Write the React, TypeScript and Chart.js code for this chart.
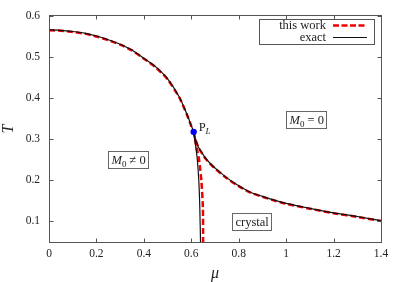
import React, { useEffect, useRef } from "react";
import { Chart, registerables } from "chart.js";
Chart.register(...registerables);

// ---- data ----
const xTicks = [0, 0.2, 0.4, 0.6, 0.8, 1.0, 1.2, 1.4];
const xTickLabels = ["0", "0.2", "0.4", "0.6", "0.8", "1", "1.2", "1.4"];
const yTicks = [0.1, 0.2, 0.3, 0.4, 0.5, 0.6];
const yTickLabels = ["0.1", "0.2", "0.3", "0.4", "0.5", "0.6"];

// exact: upper branch continuing down to crystal boundary
const exactUpperMu = [0, 0.05, 0.1, 0.15, 0.2, 0.25, 0.3, 0.35, 0.4, 0.45, 0.5, 0.55, 0.58, 0.6, 0.61, 0.618, 0.625, 0.632, 0.636, 0.639];
const exactUpperT = [0.566, 0.565, 0.562, 0.558, 0.551, 0.542, 0.531, 0.517, 0.497, 0.476, 0.447, 0.402, 0.363, 0.333, 0.318, 0.285, 0.253, 0.196, 0.132, 0.05];
// exact: right branch
const exactRightMu = [0.61, 0.615, 0.62, 0.63, 0.645, 0.66, 0.68, 0.7, 0.75, 0.8, 0.85, 0.9, 0.95, 1.0, 1.1, 1.2, 1.3, 1.4];
const exactRightT = [0.318, 0.305, 0.296, 0.281, 0.267, 0.254, 0.241, 0.23, 0.206, 0.187, 0.171, 0.161, 0.152, 0.144, 0.132, 0.121, 0.112, 0.102];
// this work
const workUpperMu = [0, 0.05, 0.1, 0.15, 0.2, 0.25, 0.3, 0.35, 0.4, 0.45, 0.5, 0.55, 0.58, 0.6, 0.61, 0.618, 0.625, 0.632, 0.638, 0.643, 0.649, 0.65];
const workUpperT = [0.565, 0.564, 0.561, 0.557, 0.55, 0.541, 0.53, 0.516, 0.496, 0.475, 0.446, 0.401, 0.362, 0.332, 0.318, 0.293, 0.272, 0.253, 0.225, 0.196, 0.132, 0.05];
const workRightMu = [0.61, 0.615, 0.62, 0.63, 0.645, 0.66, 0.68, 0.7, 0.75, 0.8, 0.85, 0.9, 0.95, 1.0, 1.1, 1.2, 1.3, 1.4];
const workRightT = [0.318, 0.304, 0.295, 0.28, 0.266, 0.253, 0.24, 0.229, 0.205, 0.186, 0.17, 0.16, 0.151, 0.143, 0.131, 0.12, 0.111, 0.101];
// Lifshitz point
const pointMu = [0.61];
const pointT = [0.318];

// region labels (data coordinates)
const labelM0zero = { mu: 1.083, T: 0.348 };
const labelM0nonzero = { mu: 0.334, T: 0.25 };
const labelCrystal = { mu: 0.854, T: 0.1 };

const legendNames = ["this work", "exact"];

const zip = (xs: number[], ys: number[]) => xs.map((x, i) => ({ x, y: ys[i] }));

const SERIF = '"Liberation Serif", "Times New Roman", serif';
const RED = "rgb(240,0,0)";
const TXT = "#222";
const FRAME = "#555";

type Part = { text: string; font: string; dy?: number };

function drawParts(ctx: CanvasRenderingContext2D, x: number, baseline: number, parts: Part[]) {
  let cx = x;
  for (const p of parts) {
    ctx.font = p.font;
    ctx.fillText(p.text, cx, baseline + (p.dy || 0));
    cx += ctx.measureText(p.text).width;
  }
}
function partsWidth(ctx: CanvasRenderingContext2D, parts: Part[]) {
  let w = 0;
  for (const p of parts) {
    ctx.font = p.font;
    w += ctx.measureText(p.text).width;
  }
  return w;
}
function boxLabel(ctx: CanvasRenderingContext2D, cx: number, cy: number, parts: Part[]) {
  const w = partsWidth(ctx, parts);
  const bw = Math.round(w + 6);
  const bh = 17;
  const left = Math.round(cx - bw / 2);
  const top = Math.round(cy - bh / 2);
  ctx.fillStyle = "#fff";
  ctx.fillRect(left, top, bw, bh);
  ctx.strokeStyle = "#666";
  ctx.lineWidth = 1;
  ctx.strokeRect(left + 0.5, top + 0.5, bw, bh);
  ctx.fillStyle = TXT;
  ctx.textAlign = "left";
  ctx.textBaseline = "alphabetic";
  drawParts(ctx, left + 3.5, top + 13, parts);
}

const decor = {
  id: "decor",
  afterDatasetsDraw(chart: any) {
    const { ctx, chartArea: ca, scales } = chart;
    const xs = scales.x;
    const ys = scales.y;
    ctx.save();
    ctx.strokeStyle = FRAME;
    ctx.lineWidth = 1;
    const L = Math.round(ca.left) + 0.5;
    const R = Math.round(ca.right) + 0.5;
    const T = Math.round(ca.top) - 0.5;
    const B = Math.round(ca.bottom) + 0.5;
    ctx.strokeRect(L, T, R - L, B - T);
    const tl = 4;
    ctx.beginPath();
    for (const v of xTicks) {
      const px = Math.round(xs.getPixelForValue(v)) + 0.5;
      ctx.moveTo(px, B);
      ctx.lineTo(px, B - tl);
      ctx.moveTo(px, T);
      ctx.lineTo(px, T + tl);
    }
    for (const v of yTicks) {
      const py = Math.round(ys.getPixelForValue(v)) + 0.5;
      ctx.moveTo(L, py);
      ctx.lineTo(L + tl, py);
      ctx.moveTo(R, py);
      ctx.lineTo(R - tl, py);
    }
    ctx.stroke();
    ctx.restore();
  },
  afterDraw(chart: any) {
    const { ctx, chartArea: ca, scales } = chart;
    const xs = scales.x;
    const ys = scales.y;
    ctx.save();
    const f = (s: number, it = false) => `${it ? "italic " : ""}${s}px ${SERIF}`;

    // region labels
    boxLabel(ctx, xs.getPixelForValue(labelM0zero.mu), ys.getPixelForValue(labelM0zero.T), [
      { text: "M", font: f(12.5, true) },
      { text: "0", font: f(9), dy: 2.5 },
      { text: " = 0", font: f(12.5) },
    ]);
    boxLabel(ctx, xs.getPixelForValue(labelM0nonzero.mu), ys.getPixelForValue(labelM0nonzero.T), [
      { text: "M", font: f(12.5, true) },
      { text: "0", font: f(9), dy: 2.5 },
      { text: " \u2260 0", font: f(12.5) },
    ]);
    boxLabel(ctx, xs.getPixelForValue(labelCrystal.mu), ys.getPixelForValue(labelCrystal.T), [
      { text: "crystal", font: f(12.5) },
    ]);

    // P_L label
    const px = xs.getPixelForValue(pointMu[0]);
    const py = ys.getPixelForValue(pointT[0]);
    ctx.fillStyle = TXT;
    ctx.textAlign = "left";
    ctx.textBaseline = "alphabetic";
    drawParts(ctx, px + 5, py - 0.5, [
      { text: "P", font: f(12.5) },
      { text: "L", font: f(9, true), dy: 2.5 },
    ]);

    // legend
    const bl = Math.round(ca.right) - 122;
    const bt = Math.round(ca.top) + 3;
    ctx.fillStyle = "#fff";
    ctx.fillRect(bl, bt, 115, 25);
    ctx.strokeStyle = FRAME;
    ctx.lineWidth = 1;
    ctx.strokeRect(bl + 0.5, bt + 0.5, 115, 25);
    ctx.fillStyle = TXT;
    ctx.font = f(12.5);
    ctx.textAlign = "right";
    ctx.fillText(legendNames[0], bl + 67, bt + 10);
    ctx.fillText(legendNames[1], bl + 67, bt + 22);
    ctx.beginPath();
    ctx.strokeStyle = RED;
    ctx.lineWidth = 2.5;
    ctx.setLineDash([6, 2.5]);
    ctx.moveTo(bl + 74, bt + 6.5);
    ctx.lineTo(bl + 108, bt + 6.5);
    ctx.stroke();
    ctx.setLineDash([]);
    ctx.beginPath();
    ctx.strokeStyle = "#111";
    ctx.lineWidth = 1.2;
    ctx.moveTo(bl + 74, bt + 18.5);
    ctx.lineTo(bl + 108, bt + 18.5);
    ctx.stroke();

    // axis titles
    ctx.fillStyle = TXT;
    ctx.font = f(16, true);
    ctx.textAlign = "center";
    ctx.textBaseline = "alphabetic";
    ctx.fillText("\u03bc", (ca.left + ca.right) / 2, 278);
    ctx.save();
    ctx.translate(13, (ca.top + ca.bottom) / 2);
    ctx.rotate(-Math.PI / 2);
    ctx.fillText("T", 0, 0);
    ctx.restore();

    ctx.restore();
  },
};

export default function App() {
  const ref = useRef<HTMLCanvasElement | null>(null);
  useEffect(() => {
    if (!ref.current) return;
    const chart = new Chart(ref.current, {
      type: "scatter",
      data: {
        datasets: [
          {
            label: "P_L",
            data: zip(pointMu, pointT),
            showLine: false,
            pointRadius: 3.2,
            pointBackgroundColor: "#0000ff",
            pointBorderColor: "#0000ff",
            pointBorderWidth: 0,
          },
          {
            label: "exact",
            data: zip(exactUpperMu, exactUpperT),
            showLine: true,
            borderColor: "#111",
            borderWidth: 1.2,
            pointRadius: 0,
            tension: 0.2,
          },
          {
            label: "exact",
            data: zip(exactRightMu, exactRightT),
            showLine: true,
            borderColor: "#111",
            borderWidth: 1.2,
            pointRadius: 0,
            tension: 0.3,
          },
          {
            label: "this work",
            data: zip(workUpperMu, workUpperT),
            showLine: true,
            borderColor: RED,
            borderWidth: 2.5,
            borderDash: [6, 3],
            pointRadius: 0,
            tension: 0.2,
          },
          {
            label: "this work",
            data: zip(workRightMu, workRightT),
            showLine: true,
            borderColor: RED,
            borderWidth: 2.5,
            borderDash: [6, 3],
            pointRadius: 0,
            tension: 0.3,
          },
        ],
      },
      options: {
        responsive: false,
        animation: false,
        devicePixelRatio: 1,
        layout: { padding: { left: 0, right: 22, top: 15, bottom: 0 } },
        plugins: { legend: { display: false }, tooltip: { enabled: false } },
        scales: {
          x: {
            type: "linear",
            min: 0,
            max: 1.4,
            grid: { display: false, drawTicks: false },
            border: { display: false },
            afterBuildTicks: (s: any) => {
              s.ticks = xTicks.map((v) => ({ value: v }));
            },
            afterFit: (s: any) => {
              s.height = 40;
            },
            ticks: {
              padding: 5,
              color: TXT,
              font: { family: SERIF, size: 11.5 },
              maxRotation: 0,
              autoSkip: false,
              callback: (v: any) => {
                const i = xTicks.findIndex((t) => Math.abs(t - v) < 1e-6);
                return i >= 0 ? xTickLabels[i] : "";
              },
            },
          },
          y: {
            type: "linear",
            min: 0.05,
            max: 0.6,
            grid: { display: false, drawTicks: false },
            border: { display: false },
            afterBuildTicks: (s: any) => {
              s.ticks = yTicks.map((v) => ({ value: v }));
            },
            afterFit: (s: any) => {
              s.width = 49;
            },
            ticks: {
              padding: 9,
              color: TXT,
              font: { family: SERIF, size: 11.5 },
              autoSkip: false,
              callback: (v: any) => {
                const i = yTicks.findIndex((t) => Math.abs(t - v) < 1e-6);
                return i >= 0 ? yTickLabels[i] : "";
              },
            },
          },
        },
      },
      plugins: [decor],
    });
    return () => chart.destroy();
  }, []);
  return (
    <div style={{ position: "fixed", left: 0, top: 0, width: 403, height: 282, background: "#fff" }}>
      <canvas ref={ref} width={403} height={282} style={{ display: "block" }} />
    </div>
  );
}
